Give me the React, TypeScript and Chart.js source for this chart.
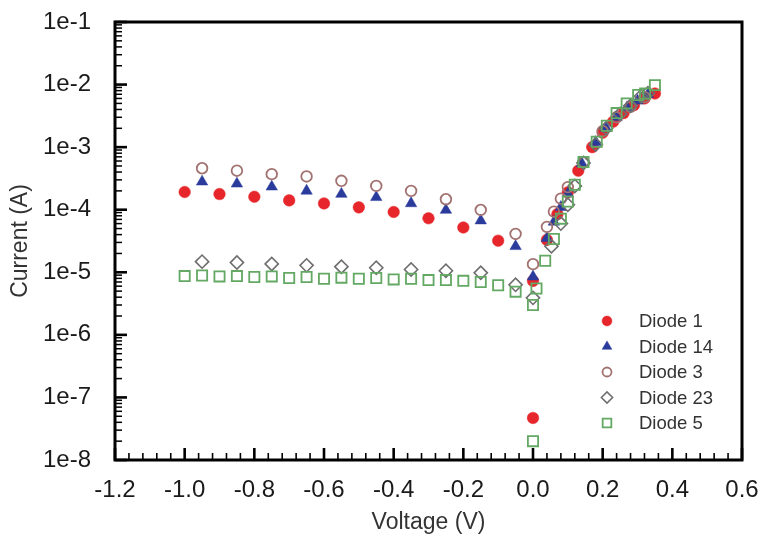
import React, { useEffect, useRef } from 'react';
import { Chart, registerables } from 'chart.js';
import { drawPoint } from 'chart.js/helpers';

Chart.register(...registerables);

// ---------- data ----------
const xTickMin = -1.2;
const xTickMax = 0.6;
const xMajorStep = 0.2;
const xMinorStep = 0.04;
const yTickValues = [1e-8, 1e-7, 1e-6, 1e-5, 1e-4, 1e-3, 1e-2, 1e-1];
const yTickLabels = ['1e-8', '1e-7', '1e-6', '1e-5', '1e-4', '1e-3', '1e-2', '1e-1'];

const diode1V = [-1.0, -0.9, -0.8, -0.7, -0.6, -0.5, -0.4, -0.3, -0.2, -0.1, 0.0, 0.0, 0.04, 0.07, 0.1, 0.13, 0.17, 0.2, 0.23, 0.26, 0.29, 0.32, 0.35];
const diode1I = [1.92e-4, 1.78e-4, 1.61e-4, 1.41e-4, 1.26e-4, 1.09e-4, 9.2e-5, 7.3e-5, 5.2e-5, 3.2e-5, 4.7e-8, 7.3e-6, 3.3e-5, 8.5e-5, 1.9e-4, 4.2e-4, 1.0e-3, 1.7e-3, 2.55e-3, 3.5e-3, 4.7e-3, 6.0e-3, 7.2e-3];

const diode14V = [-0.95, -0.85, -0.75, -0.65, -0.55, -0.45, -0.35, -0.25, -0.15, -0.05, 0.0, 0.04, 0.06, 0.08, 0.1, 0.14, 0.18, 0.21, 0.24, 0.27, 0.3, 0.33];
const diode14I = [2.8e-4, 2.6e-4, 2.33e-4, 2.0e-4, 1.78e-4, 1.58e-4, 1.26e-4, 9.9e-5, 6.7e-5, 2.6e-5, 8.5e-6, 3.5e-5, 6.4e-5, 1.1e-4, 1.8e-4, 5.5e-4, 1.2e-3, 2.0e-3, 3.0e-3, 4.3e-3, 5.5e-3, 7.0e-3];

const diode3V = [-0.95, -0.85, -0.75, -0.65, -0.55, -0.45, -0.35, -0.25, -0.15, -0.05, 0.0, 0.04, 0.06, 0.08, 0.1, 0.145, 0.2, 0.24, 0.28, 0.32];
const diode3I = [4.6e-4, 4.2e-4, 3.7e-4, 3.4e-4, 2.9e-4, 2.4e-4, 2.0e-4, 1.47e-4, 9.9e-5, 4.1e-5, 1.35e-5, 5.3e-5, 9.3e-5, 1.5e-4, 2.3e-4, 5.8e-4, 1.8e-3, 3.0e-3, 4.4e-3, 6.3e-3];

const diode23V = [-0.95, -0.85, -0.75, -0.65, -0.55, -0.45, -0.35, -0.25, -0.15, -0.05, 0.0, 0.053, 0.08, 0.1, 0.12, 0.145, 0.18, 0.21, 0.25, 0.28, 0.31, 0.33];
const diode23I = [1.48e-5, 1.43e-5, 1.36e-5, 1.29e-5, 1.23e-5, 1.18e-5, 1.11e-5, 1.06e-5, 9.8e-6, 6.3e-6, 3.9e-6, 2.6e-5, 6.0e-5, 1.2e-4, 2.4e-4, 5.6e-4, 1.1e-3, 2.0e-3, 3.4e-3, 4.6e-3, 6.5e-3, 7.3e-3];

const diode5V = [-1.0, -0.95, -0.9, -0.85, -0.8, -0.75, -0.7, -0.65, -0.6, -0.55, -0.5, -0.45, -0.4, -0.35, -0.3, -0.25, -0.2, -0.15, -0.1, -0.05, 0.0, 0.0, 0.01, 0.035, 0.06, 0.08, 0.1, 0.12, 0.145, 0.183, 0.212, 0.24, 0.269, 0.302, 0.322, 0.35];
const diode5I = [8.7e-6, 8.9e-6, 8.6e-6, 8.7e-6, 8.4e-6, 8.6e-6, 8.1e-6, 8.4e-6, 7.9e-6, 8.2e-6, 7.9e-6, 8.1e-6, 7.7e-6, 7.9e-6, 7.5e-6, 7.5e-6, 7.3e-6, 7.0e-6, 6.2e-6, 4.9e-6, 3.0e-6, 2.0e-8, 5.5e-6, 1.53e-5, 3.4e-5, 7.2e-5, 1.35e-4, 2.5e-4, 5.8e-4, 1.22e-3, 2.2e-3, 3.5e-3, 5.0e-3, 6.8e-3, 7.2e-3, 9.8e-3];

const seriesNames = ['Diode 1', 'Diode 14', 'Diode 3', 'Diode 23', 'Diode 5'];

// ---------- styles ----------
const FONT = '"Liberation Sans", Arial, Helvetica, sans-serif';

const toPoints = (xs: number[], ys: number[]) => xs.map((x, i) => ({ x, y: ys[i] }));

const seriesStyles = [
  { pointStyle: 'circle', radius: 5.8, bg: '#e6262b', border: '#e6262b', bw: 0.5 },
  { pointStyle: 'triangle', radius: 6.6, bg: '#2a3b9c', border: '#2a3b9c', bw: 0.5 },
  { pointStyle: 'circle', radius: 5.3, bg: 'rgba(0,0,0,0)', border: '#a27270', bw: 1.8 },
  { pointStyle: 'rectRot', radius: 6.6, bg: 'rgba(0,0,0,0)', border: '#6e6e6e', bw: 1.6 },
  { pointStyle: 'rect', radius: 7.2, bg: 'rgba(0,0,0,0)', border: '#63a863', bw: 1.8 },
];

const frameTicksPlugin = {
  id: 'frameTicks',
  afterDraw(chart: any) {
    const { ctx, chartArea: a, scales } = chart;
    const xs = scales.x;
    const ys = scales.y;
    ctx.save();
    ctx.strokeStyle = '#000';
    ctx.lineCap = 'butt';
    // x ticks (inside)
    const nX = Math.round((xTickMax - xTickMin) / xMinorStep);
    const perMajor = Math.round(xMajorStep / xMinorStep);
    for (let i = 0; i <= nX; i++) {
      const v = xTickMin + i * xMinorStep;
      const px = xs.getPixelForValue(v);
      const major = i % perMajor === 0;
      ctx.lineWidth = major ? 2.6 : 1.6;
      ctx.beginPath();
      ctx.moveTo(px, a.bottom);
      ctx.lineTo(px, a.bottom - (major ? 12 : 7));
      ctx.stroke();
    }
    // y ticks (inside), log minor
    for (let d = 0; d < yTickValues.length; d++) {
      const base = yTickValues[d];
      for (let m = 1; m <= 9; m++) {
        const v = base * m;
        if (v > yTickValues[yTickValues.length - 1] * 1.0001) break;
        const py = ys.getPixelForValue(v);
        const major = m === 1;
        ctx.lineWidth = major ? 2.6 : 1.5;
        ctx.beginPath();
        ctx.moveTo(a.left, py);
        ctx.lineTo(a.left + (major ? 12 : 7), py);
        ctx.stroke();
      }
    }
    // frame
    ctx.lineWidth = 3;
    ctx.strokeRect(a.left, a.top, a.right - a.left, a.bottom - a.top);

    // legend inside the plot
    const mx = a.right - 135;
    const tx = a.right - 103;
    const y0 = a.bottom - 139;
    const dy = 25.5;
    ctx.font = `18.5px ${FONT}`;
    ctx.textBaseline = 'middle';
    ctx.textAlign = 'left';
    chart.data.datasets.forEach((ds: any, i: number) => {
      const st = seriesStyles[i];
      const yy = y0 + i * dy;
      ctx.save();
      ctx.fillStyle = st.bg;
      ctx.strokeStyle = st.border;
      ctx.lineWidth = st.bw;
      drawPoint(ctx, { pointStyle: st.pointStyle, radius: st.radius * 0.85, rotation: 0, borderWidth: st.bw }, mx, yy);
      ctx.restore();
      ctx.fillStyle = '#333';
      ctx.fillText(ds.label, tx, yy + 1);
    });
    ctx.restore();
  },
};

export default function App() {
  const ref = useRef<HTMLCanvasElement | null>(null);

  useEffect(() => {
    if (!ref.current) return;
    const xs = [diode1V, diode14V, diode3V, diode23V, diode5V];
    const ysArr = [diode1I, diode14I, diode3I, diode23I, diode5I];
    const datasets = seriesNames.map((name, i) => {
      const st = seriesStyles[i];
      return {
        label: name,
        data: toPoints(xs[i], ysArr[i]),
        showLine: false,
        pointStyle: st.pointStyle,
        pointRadius: st.radius,
        pointHoverRadius: st.radius,
        pointBackgroundColor: st.bg,
        pointBorderColor: st.border,
        pointBorderWidth: st.bw,
        backgroundColor: st.bg,
        borderColor: st.border,
        order: seriesNames.length - i,
      };
    });

    const chart = new Chart(ref.current, {
      type: 'scatter',
      data: { datasets } as any,
      plugins: [frameTicksPlugin],
      options: {
        animation: false,
        responsive: false,
        devicePixelRatio: 1,
        layout: { padding: { top: 22, right: 20, left: 0, bottom: 0 } },
        plugins: {
          legend: { display: false },
          tooltip: { enabled: false },
        },
        scales: {
          x: {
            type: 'linear',
            min: xTickMin,
            max: xTickMax,
            grid: { display: false },
            border: { display: false },
            ticks: {
              stepSize: xMajorStep,
              autoSkip: false,
              maxRotation: 0,
              padding: 8,
              color: '#1a1a1a',
              font: { size: 24, family: FONT },
              callback: (v: any) => (Math.abs(Number(v)) < 1e-9 ? '0.0' : Number(v).toFixed(1)),
            },
            title: {
              display: true,
              text: 'Voltage (V)',
              color: '#333',
              font: { size: 23, family: FONT },
              padding: { top: 0, bottom: 5 },
            },
            afterFit: (s: any) => {
              s.height = 81;
              s.paddingLeft = 0;
              s.paddingRight = 0;
            },
          },
          y: {
            type: 'logarithmic',
            min: yTickValues[0],
            max: yTickValues[yTickValues.length - 1],
            grid: { display: false },
            border: { display: false },
            afterBuildTicks: (s: any) => {
              s.ticks = yTickValues.map((v) => ({ value: v }));
            },
            ticks: {
              autoSkip: false,
              padding: 16,
              color: '#1a1a1a',
              font: { size: 24, family: FONT },
              callback: (_v: any, i: number) => yTickLabels[i],
            },
            title: {
              display: true,
              text: 'Current (A)',
              color: '#333',
              font: { size: 23, family: FONT },
              padding: { top: 7, bottom: 0 },
            },
            afterFit: (s: any) => {
              s.width = 115;
              s.paddingTop = 0;
              s.paddingBottom = 0;
            },
          },
        },
      } as any,
    });
    return () => chart.destroy();
  }, []);

  return (
    <div style={{ position: 'fixed', left: 0, top: 0, width: 762, height: 541, background: '#fff' }}>
      <canvas ref={ref} width={762} height={541} style={{ width: 762, height: 541, display: 'block' }} />
    </div>
  );
}
